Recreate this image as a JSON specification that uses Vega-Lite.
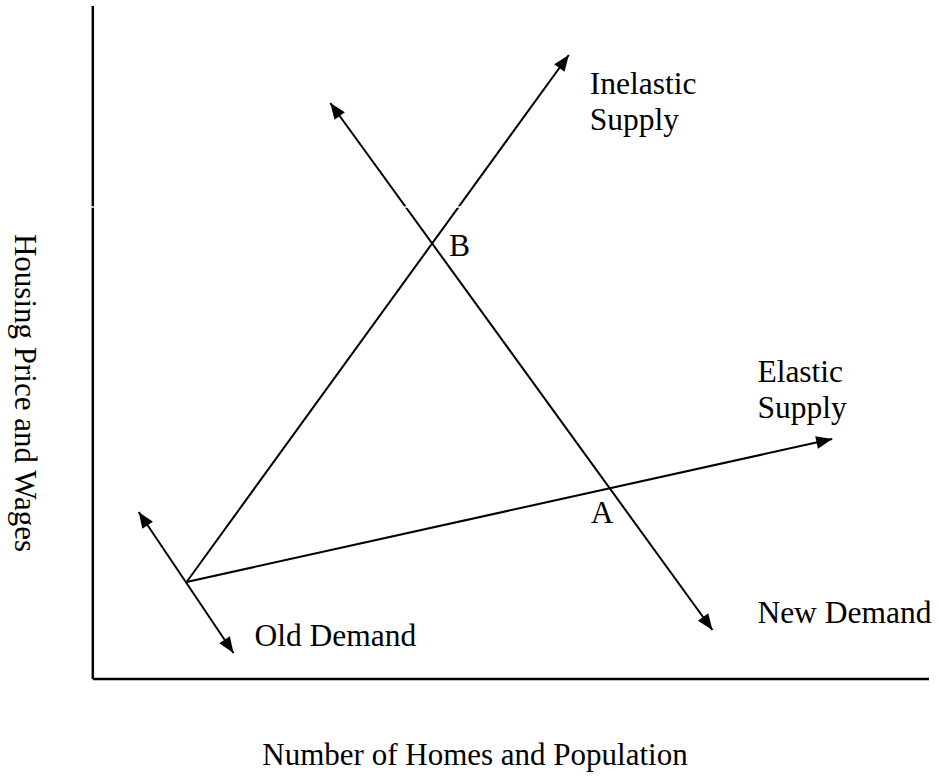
{
  "$schema": "https://vega.github.io/schema/vega-lite/v6.json",
  "width": 939,
  "height": 778,
  "padding": 0,
  "autosize": {"type": "fit", "contains": "padding"},
  "background": "white",
  "config": {"view": {"stroke": null}},
  "datasets": {
    "curves": [
      {"curve": "Inelastic Supply", "x": 186, "y": 196, "x2": 569, "y2": 723},
      {"curve": "Elastic Supply", "x": 186, "y": 196, "x2": 833, "y2": 339},
      {"curve": "Old Demand", "x": 138, "y": 266, "x2": 233, "y2": 125},
      {"curve": "New Demand", "x": 330, "y": 675, "x2": 713, "y2": 148}
    ],
    "axes": [
      {"axis": "y", "x": 92, "y": 772, "x2": 92, "y2": 99},
      {"axis": "x", "x": 92, "y": 99, "x2": 930, "y2": 99}
    ],
    "arrows": [
      {"curve": "Inelastic Supply", "tx": 569, "ty": 723, "fx": 186, "fy": 196},
      {"curve": "Elastic Supply", "tx": 833, "ty": 339, "fx": 186, "fy": 196},
      {"curve": "Old Demand", "tx": 138, "ty": 266, "fx": 233, "fy": 125},
      {"curve": "Old Demand", "tx": 233, "ty": 125, "fx": 138, "fy": 266},
      {"curve": "New Demand", "tx": 330, "ty": 675, "fx": 713, "fy": 148},
      {"curve": "New Demand", "tx": 713, "ty": 148, "fx": 330, "fy": 675}
    ],
    "labels": [
      {"text": "Inelastic", "x": 590, "y": 684},
      {"text": "Supply", "x": 590, "y": 648},
      {"text": "Elastic", "x": 758, "y": 396},
      {"text": "Supply", "x": 758, "y": 360},
      {"text": "B", "x": 449, "y": 522},
      {"text": "A", "x": 591, "y": 255},
      {"text": "New Demand", "x": 758, "y": 155},
      {"text": "Old Demand", "x": 254, "y": 132}
    ],
    "xtitle": [{"text": "Number of Homes and Population", "x": 475, "y": 13}],
    "ytitle": [{"text": "Housing Price and Wages", "x": 14, "y": 385}],
    "gap": [{"y": 571}]
  },
  "layer": [
    {
      "data": {"name": "axes"},
      "mark": {"type": "rule", "color": "black", "strokeWidth": 2.5, "strokeCap": "butt"},
      "encoding": {
        "x": {"field": "x", "type": "quantitative", "scale": {"domain": [0, 939], "nice": false, "zero": false}, "axis": null},
        "y": {"field": "y", "type": "quantitative", "scale": {"domain": [0, 778], "nice": false, "zero": false}, "axis": null},
        "x2": {"field": "x2"},
        "y2": {"field": "y2"}
      }
    },
    {
      "data": {"name": "curves"},
      "mark": {"type": "rule", "color": "black", "strokeWidth": 2, "strokeCap": "butt"},
      "encoding": {
        "x": {"field": "x", "type": "quantitative", "scale": {"domain": [0, 939], "nice": false, "zero": false}, "axis": null},
        "y": {"field": "y", "type": "quantitative", "scale": {"domain": [0, 778], "nice": false, "zero": false}, "axis": null},
        "x2": {"field": "x2"},
        "y2": {"field": "y2"}
      }
    },
    {
      "data": {"name": "arrows"},
      "transform": [
        {"calculate": "(atan2(datum.tx - datum.fx, datum.ty - datum.fy) * 180 / PI + 360) % 360", "as": "heading"}
      ],
      "mark": {"type": "point", "shape": "M0,0L0.8,2L-0.8,2Z", "filled": true, "color": "black", "opacity": 1, "size": 256, "strokeWidth": 0},
      "encoding": {
        "x": {"field": "tx", "type": "quantitative", "scale": {"domain": [0, 939], "nice": false, "zero": false}, "axis": null},
        "y": {"field": "ty", "type": "quantitative", "scale": {"domain": [0, 778], "nice": false, "zero": false}, "axis": null},
        "angle": {"field": "heading", "type": "quantitative", "scale": null}
      }
    },
    {
      "data": {"name": "gap"},
      "mark": {"type": "rule", "color": "white", "strokeWidth": 1.5},
      "encoding": {
        "y": {"field": "y", "type": "quantitative", "scale": {"domain": [0, 778], "nice": false, "zero": false}, "axis": null}
      }
    },
    {
      "data": {"name": "labels"},
      "mark": {"type": "text", "font": "Liberation Serif", "fontSize": 31.5, "align": "left", "baseline": "alphabetic", "color": "black"},
      "encoding": {
        "x": {"field": "x", "type": "quantitative", "scale": {"domain": [0, 939], "nice": false, "zero": false}, "axis": null},
        "y": {"field": "y", "type": "quantitative", "scale": {"domain": [0, 778], "nice": false, "zero": false}, "axis": null},
        "text": {"field": "text"}
      }
    },
    {
      "data": {"name": "xtitle"},
      "mark": {"type": "text", "font": "Liberation Serif", "fontSize": 31, "align": "center", "baseline": "alphabetic", "color": "black"},
      "encoding": {
        "x": {"field": "x", "type": "quantitative", "scale": {"domain": [0, 939], "nice": false, "zero": false}, "axis": null},
        "y": {"field": "y", "type": "quantitative", "scale": {"domain": [0, 778], "nice": false, "zero": false}, "axis": null},
        "text": {"field": "text"}
      }
    },
    {
      "data": {"name": "ytitle"},
      "mark": {"type": "text", "font": "Liberation Serif", "fontSize": 31, "align": "center", "baseline": "alphabetic", "angle": 90, "color": "black"},
      "encoding": {
        "x": {"field": "x", "type": "quantitative", "scale": {"domain": [0, 939], "nice": false, "zero": false}, "axis": null},
        "y": {"field": "y", "type": "quantitative", "scale": {"domain": [0, 778], "nice": false, "zero": false}, "axis": null},
        "text": {"field": "text"}
      }
    }
  ]
}
